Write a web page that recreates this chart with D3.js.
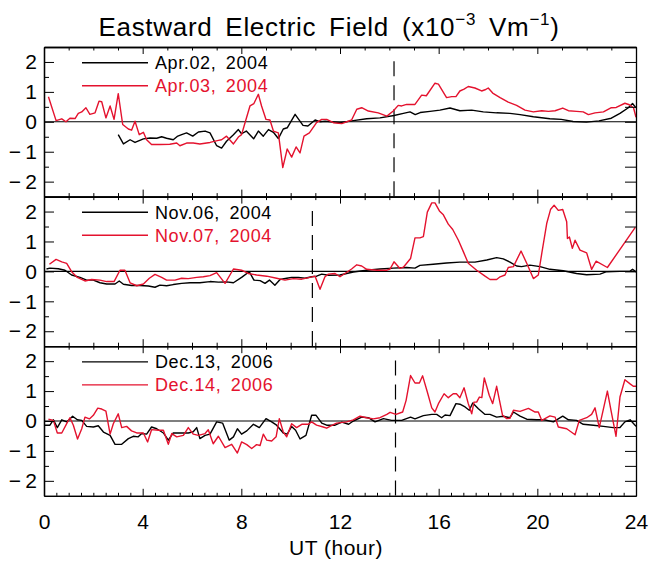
<!DOCTYPE html>
<html>
<head>
<meta charset="utf-8">
<script src="https://cdn.jsdelivr.net/npm/d3@7"></script>
<style>
    body { margin: 0; background: #fff; }
    text { font-family: "Liberation Sans", Arial, sans-serif; }
</style>
</head>
<body>
<div id="chart"></div>
<script>
// hour, value (x10^-3 V/m)
var apr02 = [[3.01,-0.43],[3.22,-0.74],[3.49,-0.6],[3.69,-0.69],[4.03,-0.57],[4.3,-0.54],[4.57,-0.55],[4.77,-0.5],
    [4.97,-0.55],[5.24,-0.6],[5.4,-0.49],[5.58,-0.43],[5.78,-0.37],[6.03,-0.48],[6.26,-0.34],[6.53,-0.31],[6.73,-0.37],
    [7.0,-0.8],[7.2,-0.88],[7.4,-0.65],[7.68,-0.43],[7.88,-0.26],[8.01,-0.4],[8.2,-0.31],[8.5,-0.57],[8.69,-0.31],
    [8.89,-0.48],[9.1,-0.26],[9.3,-0.35],[9.5,-0.56],[9.7,-0.24],[9.86,-0.2],[10.18,0.25],[10.5,-0.12],[10.7,-0.14],
    [10.99,0.06],[11.2,0],[11.4,0.02],[11.6,0],[12.0,-0.03],[12.54,0.04],[13.08,0.1],[13.62,0.13],[14.19,0.21],
    [14.57,0.28],[14.84,0.33],[15.05,0.24],[15.25,0.31],[15.65,0.35],[16.05,0.39],[16.46,0.46],[16.86,0.37],[17.34,0.39],
    [17.81,0.33],[18.35,0.3],[18.89,0.28],[19.3,0.24],[19.84,0.17],[20.51,0.1],[20.97,0.08],[21.45,0.01],[21.99,-0.01],
    [22.5,0.03],[23.0,0.12],[23.35,0.28],[23.69,0.47],[23.86,0.61],[24.0,0.47]];
var apr03 = [[0.18,0.84],[0.49,0.04],[0.72,0.1],[0.89,0],[1.05,0.12],[1.26,0.11],[1.39,0.28],[1.53,0.33],[1.7,0.47],
    [1.86,0.25],[2.07,0.3],[2.23,0.69],[2.34,0.67],[2.51,0.13],[2.68,0.53],[2.84,0.08],[3.01,0.94],[3.19,-0.09],
    [3.42,-0.24],[3.55,-0.28],[3.69,0.02],[3.86,-0.43],[4.03,-0.35],[4.16,-0.6],[4.36,-0.76],[4.7,-0.76],[5.1,-0.75],
    [5.38,-0.71],[5.51,-0.8],[5.78,-0.71],[6.05,-0.71],[6.32,-0.74],[6.73,-0.69],[7.07,-0.62],[7.2,-0.6],[7.4,-0.48],
    [7.68,-0.74],[7.88,-0.51],[8.01,-0.43],[8.15,-0.03],[8.35,0.53],[8.51,0.61],[8.69,0.92],[8.82,0.53],[9.0,0.08],
    [9.16,0.06],[9.3,-0.31],[9.5,-0.37],[9.68,-1.53],[9.86,-0.91],[10.04,-1.18],[10.22,-0.84],[10.38,-1.04],[10.54,-0.48],
    [10.76,-0.37],[11.05,-0.03],[11.26,0.08],[11.46,0.08],[11.73,-0.03],[12.07,-0.06],[12.47,0.06],[12.68,0.42],
    [12.88,0.47],[13.15,0.36],[13.55,0.3],[13.9,0.19],[14.16,0.36],[14.36,0.55],[14.5,0.53],[14.7,0.58],[15.04,0.58],
    [15.31,0.89],[15.5,0.87],[15.85,1.29],[15.99,1.26],[16.32,0.81],[16.53,0.84],[16.7,0.84],[16.86,1.03],[17.03,1.09],
    [17.2,1.18],[17.47,1.13],[17.74,1.03],[17.88,1.07],[18.01,1.13],[18.19,0.96],[18.49,0.81],[18.82,0.66],[19.16,0.55],
    [19.5,0.39],[19.84,0.33],[20.18,0.37],[20.45,0.35],[20.72,0.37],[21.03,0.46],[21.26,0.37],[21.59,0.35],[21.86,0.33],
    [22.07,0.24],[22.34,0.3],[22.68,0.33],[23.0,0.47],[23.2,0.48],[23.55,0.62],[23.73,0.57],[23.9,0.47],[24.0,0.15]];

var nov06 = [[0.1,0.08],[0.24,0.11],[0.58,0.09],[0.85,0.04],[1.12,-0.12],[1.46,-0.2],[1.73,-0.29],[2.0,-0.29],
    [2.27,-0.38],[2.54,-0.42],[2.88,-0.42],[3.05,-0.32],[3.22,-0.43],[3.55,-0.47],[3.89,-0.47],[4.23,-0.49],[4.5,-0.53],
    [4.7,-0.46],[4.97,-0.48],[5.24,-0.44],[5.58,-0.4],[5.92,-0.38],[6.32,-0.38],[6.73,-0.34],[7.07,-0.36],[7.4,-0.35],
    [7.68,-0.38],[8.01,-0.2],[8.32,-0.01],[8.51,-0.29],[8.76,-0.31],[8.96,-0.4],[9.14,-0.29],[9.36,-0.46],[9.57,-0.27],
    [9.84,-0.23],[10.04,-0.2],[10.31,-0.2],[10.58,-0.23],[10.85,-0.18],[11.05,-0.16],[11.26,-0.09],[11.53,-0.13],
    [12.0,-0.12],[12.54,-0.02],[13.08,0.04],[13.62,0.08],[14.16,0.11],[14.7,0.13],[15.04,0.11],[15.24,0.2],[15.78,0.24],
    [16.32,0.28],[16.86,0.31],[17.47,0.31],[17.95,0.38],[18.35,0.46],[18.62,0.42],[18.89,0.31],[19.16,0.18],[19.36,0.16],
    [19.7,0.21],[20.11,0.16],[20.51,0.07],[21.05,0.02],[21.59,-0.07],[22.0,-0.11],[22.54,-0.09],[22.81,-0.01],
    [23.35,0],[23.76,0.01],[23.86,0.07],[24.0,-0.02]];
var nov07 = [[0.22,0.24],[0.49,0.4],[0.72,0.32],[0.92,0.27],[1.12,-0.01],[1.35,-0.2],[1.66,-0.32],[1.93,-0.27],
    [2.27,-0.29],[2.54,-0.34],[2.84,-0.34],[3.08,0.04],[3.28,0.04],[3.49,-0.38],[3.76,-0.48],[4.03,-0.42],[4.27,-0.23],
    [4.5,-0.1],[4.77,-0.2],[4.97,-0.29],[5.31,-0.29],[5.58,-0.23],[5.85,-0.24],[6.19,-0.2],[6.46,-0.18],[6.73,-0.14],
    [7.0,-0.04],[7.34,-0.4],[7.68,0.08],[8.01,0.04],[8.28,-0.07],[8.62,-0.12],[9.03,-0.16],[9.43,-0.23],[9.77,-0.29],
    [10.11,-0.24],[10.45,-0.26],[10.78,-0.2],[10.99,-0.16],[11.19,-0.6],[11.39,-0.18],[11.53,-0.09],[11.8,-0.07],
    [12.0,-0.18],[12.2,-0.07],[12.47,0.08],[12.68,0.22],[12.88,0.18],[13.08,0.07],[13.49,0.04],[13.9,0.04],[14.03,0.08],
    [14.19,0.32],[14.43,0.1],[14.57,0.14],[14.86,0.43],[15.04,1.12],[15.24,1.12],[15.38,1.16],[15.54,1.98],[15.72,2.29],
    [15.85,2.29],[16.03,2.02],[16.19,1.89],[16.39,1.58],[16.57,1.4],[16.8,1.04],[17.0,0.66],[17.2,0.27],[17.54,0.04],
    [17.88,-0.16],[18.08,-0.27],[18.35,-0.27],[18.49,-0.18],[18.69,-0.12],[18.82,0.13],[19.03,0.16],[19.34,0.68],
    [19.57,0.27],[19.84,-0.24],[20.04,-0.12],[20.18,0.6],[20.38,1.6],[20.54,2.08],[20.68,2.21],[20.85,2.04],[21.03,2.07],
    [21.19,1.66],[21.22,1.1],[21.3,1.15],[21.42,0.77],[21.53,1.04],[21.73,0.71],[22.0,0.62],[22.2,0.07],[22.38,0.34],
    [22.84,0.13],[23.97,1.47]];

var dec13 = [[0.04,-0.14],[0.24,-0.14],[0.38,0.04],[0.54,-0.22],[0.72,0.04],[0.92,-0.03],[1.16,0.16],[1.35,0.04],
    [1.53,0.02],[1.73,-0.18],[2.0,-0.2],[2.2,-0.16],[2.41,-0.37],[2.68,-0.48],[2.88,-0.78],[3.15,-0.78],[3.42,-0.59],
    [3.62,-0.51],[3.82,-0.53],[3.96,-0.42],[4.16,-0.44],[4.36,-0.2],[4.57,-0.26],[4.84,-0.4],[5.04,-0.64],[5.24,-0.4],
    [5.58,-0.4],[5.85,-0.4],[6.05,-0.36],[6.19,-0.22],[6.32,-0.59],[6.53,-0.48],[6.73,-0.44],[7.0,-0.03],[7.24,-0.07],
    [7.51,-0.64],[7.68,-0.53],[7.84,-0.26],[8.01,-0.44],[8.22,-0.33],[8.49,-0.11],[8.73,-0.22],[9.0,0.08],[9.23,-0.03],
    [9.43,-0.14],[9.7,-0.4],[9.86,-0.44],[10.04,-0.18],[10.2,-0.31],[10.38,-0.6],[10.62,-0.48],[10.85,0.19],[11.03,0.19],
    [11.26,-0.07],[11.46,-0.14],[11.8,-0.14],[12.07,-0.04],[12.35,-0.11],[12.54,0],[12.88,0.13],[13.15,0.11],
    [13.42,-0.03],[13.76,0.08],[14.09,0.02],[14.5,0.02],[14.86,0.13],[15.04,0.07],[15.38,0.18],[15.72,0.22],[15.92,0.22],
    [16.12,0.11],[16.26,0.2],[16.46,0.18],[16.7,0.58],[16.86,0.56],[17.07,0.47],[17.24,0.36],[17.38,0.6],[17.61,0.41],
    [17.88,0.22],[18.08,0.22],[18.35,0.13],[18.62,0.16],[18.89,0.11],[19.03,0.3],[19.3,0.16],[19.57,0.06],[19.97,0.04],
    [20.27,0.04],[20.65,-0.03],[21.03,0.16],[21.26,0.04],[21.59,0.02],[21.86,-0.11],[22.27,-0.14],[22.68,-0.18],
    [23.08,-0.22],[23.35,-0.22],[23.55,-0.03],[23.76,0.04],[24.0,-0.18]];
var dec14 = [[0.18,0.06],[0.38,0.02],[0.54,-0.4],[0.72,-0.4],[0.92,-0.09],[1.05,0.11],[1.19,-0.14],[1.36,-0.6],
    [1.53,-0.26],[1.66,0.13],[1.84,0.07],[2.0,0.19],[2.18,0.43],[2.34,0.4],[2.51,0.33],[2.68,-0.44],[2.81,-0.09],
    [3.01,0.24],[3.15,-0.22],[3.35,-0.18],[3.55,-0.33],[3.76,-0.4],[4.03,-0.4],[4.2,-0.7],[4.36,-0.29],[4.64,-0.31],
    [4.84,-0.31],[5.04,-0.78],[5.18,-0.42],[5.38,-0.53],[5.65,-0.48],[5.85,-0.22],[6.05,-0.44],[6.26,-0.48],[6.53,-0.42],
    [6.66,-0.29],[6.86,-0.76],[7.07,-0.51],[7.34,-0.89],[7.61,-0.78],[7.84,-1.07],[8.01,-0.7],[8.22,-0.79],[8.42,-0.92],
    [8.62,-0.79],[8.76,-0.82],[8.89,-0.44],[9.03,-0.64],[9.23,-0.67],[9.41,-0.53],[9.54,0.08],[9.7,-0.37],[9.84,-0.53],
    [10.04,-0.09],[10.24,-0.22],[10.45,-0.11],[10.72,-0.11],[10.85,-0.03],[11.05,-0.14],[11.32,-0.2],[11.46,-0.24],
    [11.59,-0.18],[11.86,-0.07],[12.27,-0.03],[12.54,0.04],[12.81,0.16],[13.08,0.11],[13.35,0.07],[13.62,0.11],
    [13.9,0.22],[14.03,0.29],[14.27,0.22],[14.54,0.3],[14.68,0.69],[14.86,1.52],[15.04,1.27],[15.22,1.27],[15.35,1.51],
    [15.54,0.97],[15.72,0.44],[15.85,0.3],[15.99,0.58],[16.22,0.91],[16.39,0.78],[16.59,0.91],[16.72,0.91],[16.86,0.78],
    [17.03,1.11],[17.2,0.58],[17.34,0.24],[17.43,0.63],[17.54,0.63],[17.65,0.8],[17.75,0.78],[17.85,1.44],[18.05,0.86],
    [18.19,0.58],[18.35,1.16],[18.59,0.19],[18.76,0.08],[18.89,0.09],[19.03,0.36],[19.3,0.32],[19.64,0.42],[19.91,0.3],
    [20.04,0.3],[20.18,0.02],[20.51,0.17],[20.72,0.13],[20.85,-0.2],[21.19,-0.26],[21.53,-0.46],[21.7,0.02],[22.0,0.11],
    [22.2,0.22],[22.34,0.44],[22.51,-0.22],[22.84,1.0],[23.0,0.3],[23.19,-0.51],[23.35,0.8],[23.55,1.38],[23.76,1.24],
    [23.89,1.16],[24.0,1.16]];

var panelLabels = [["Apr.02, 2004", "Apr.03, 2004"], ["Nov.06, 2004", "Nov.07, 2004"], ["Dec.13, 2006", "Dec.14, 2006"]];
var panelSeries = [[apr02, apr03], [nov06, nov07], [dec13, dec14]];
var dashedAt = [14.19, 10.88, 14.25];   // dashed marker, hour
var yMajor = [-2, -1, 0, 1, 2];
var yMinor = [-1.5, -0.5, 0.5, 1.5];
var xLabels = [0, 4, 8, 12, 16, 20, 24];

var width = 650, height = 561;
var red = "#e4122e";
var seriesColor = ["#000", red];

var svg = d3.select("#chart").append("svg")
    .attr("width", width)
    .attr("height", height);

var x = d3.scaleLinear().domain([0, 24]).range([44, 636]);
var top0 = 47, ph = 149.6;

var hourTicks = d3.range(0, 25, 1);
var halfTicks = d3.range(0, 24.01, 0.5);

function tidy(g) {
    g.selectAll("path.domain").attr("stroke", "#000").attr("stroke-width", 1.3);
    g.selectAll(".tick line").attr("stroke", "#000").attr("stroke-width", 1);
}

var line = d3.line();

panelSeries.forEach(function (series, i) {
    var top = top0 + i * ph;
    var y = d3.scaleLinear().domain([-2.5, 2.5]).range([top + ph, top]);
    var g = svg.append("g");

    svg.append("clipPath").attr("id", "clip" + i)
        .append("rect")
        .attr("x", x(0)).attr("y", top)
        .attr("width", x(24) - x(0)).attr("height", ph);

    // zero line
    g.append("line")
        .attr("x1", x(0)).attr("x2", x(24))
        .attr("y1", y(0)).attr("y2", y(0))
        .attr("stroke", "#000").attr("stroke-width", 1.1);

    // dashed marker
    g.append("line")
        .attr("x1", x(dashedAt[i])).attr("x2", x(dashedAt[i]))
        .attr("y1", y(2.02)).attr("y2", y(-2.5))
        .attr("stroke", "#000").attr("stroke-width", 1.2)
        .attr("stroke-dasharray", "15,9");

    // series
    series.forEach(function (s, k) {
        g.append("path")
            .datum(s)
            .attr("clip-path", "url(#clip" + i + ")")
            .attr("fill", "none")
            .attr("stroke", seriesColor[k])
            .attr("stroke-width", 1.4)
            .attr("stroke-linejoin", "round")
            .attr("d", line.x(d => x(d[0])).y(d => y(d[1])));
    });

    // legend
    panelLabels[i].forEach(function (lab, k) {
        var ly = top + 15.7 + k * 23;
        g.append("line")
            .attr("x1", 82).attr("x2", 148)
            .attr("y1", ly).attr("y2", ly)
            .attr("stroke", seriesColor[k]).attr("stroke-width", 1.4);
        g.append("text")
            .attr("x", 155).attr("y", ly + 6.5)
            .attr("font-size", 18)
            .attr("letter-spacing", 0.6)
            .attr("word-spacing", 4)
            .attr("fill", seriesColor[k])
            .text(lab);
    });

    // left axis: ticks point inward
    g.append("g").attr("transform", `translate(${x(0)},0)`)
        .call(d3.axisRight(y).tickValues(yMajor).tickSize(10).tickSizeOuter(0).tickFormat(""))
        .call(tidy);
    g.append("g").attr("transform", `translate(${x(0)},0)`)
        .call(d3.axisRight(y).tickValues(yMinor).tickSize(5).tickSizeOuter(0).tickFormat(""))
        .call(tidy);
    // labels
    g.append("g").attr("transform", `translate(${x(0)},0)`)
        .call(d3.axisLeft(y).tickValues(yMajor).tickSize(0).tickPadding(7)
            .tickFormat(d => d < 0 ? "\u2212\u2009" + (-d) : String(d)))
        .call(function (a) {
            a.select("path.domain").remove();
            a.selectAll("text").attr("font-size", 21)
                .attr("font-family", "'Liberation Sans', Arial, sans-serif");
        });

    // right axis
    g.append("g").attr("transform", `translate(${x(24)},0)`)
        .call(d3.axisLeft(y).tickValues(yMajor.concat(yMinor)).tickSize(11).tickSizeOuter(0).tickFormat(""))
        .call(tidy);

    // top edge, ticks downward
    g.append("g").attr("transform", `translate(0,${top})`)
        .call(d3.axisBottom(x).tickValues(hourTicks.filter(h => h % 4)).tickSize(3.5).tickSizeOuter(0).tickFormat(""))
        .call(tidy);
    g.append("g").attr("transform", `translate(0,${top})`)
        .call(d3.axisBottom(x).tickValues(xLabels).tickSize(7).tickSizeOuter(0).tickFormat(""))
        .call(tidy);

    // bottom edge, ticks upward
    var bt = i < 2 ? hourTicks : halfTicks;
    g.append("g").attr("transform", `translate(0,${top + ph})`)
        .call(d3.axisTop(x).tickValues(bt.filter(h => h % 4)).tickSize(i < 2 ? 3.5 : 3).tickSizeOuter(0).tickFormat(""))
        .call(tidy);
    g.append("g").attr("transform", `translate(0,${top + ph})`)
        .call(d3.axisTop(x).tickValues(xLabels).tickSize(7).tickSizeOuter(0).tickFormat(""))
        .call(tidy);
});

// bottom hour labels
var bottom = top0 + 3 * ph;
svg.append("g").attr("transform", `translate(0,${bottom})`)
    .call(d3.axisBottom(x).tickValues(xLabels).tickSize(0).tickPadding(18).tickFormat(d3.format("d")))
    .call(function (a) {
        a.select("path.domain").remove();
        a.selectAll("text").attr("font-size", 21)
            .attr("font-family", "'Liberation Sans', Arial, sans-serif");
    });

svg.append("text")
    .attr("x", 336).attr("y", 555)
    .attr("text-anchor", "middle")
    .attr("font-size", 21)
    .attr("letter-spacing", 0.5)
    .text("UT (hour)");

// title
var title = svg.append("text")
    .attr("x", 329).attr("y", 36)
    .attr("text-anchor", "middle")
    .attr("font-size", 26)
    .attr("letter-spacing", 0.7)
    .attr("word-spacing", 5);
title.append("tspan").text("Eastward Electric Field (x10");
title.append("tspan").attr("dy", -11).attr("font-size", 17).text("\u2212" + "3");
title.append("tspan").attr("dy", 11).text(" Vm");
title.append("tspan").attr("dy", -11).attr("font-size", 17).text("\u2212" + "1");
title.append("tspan").attr("dy", 11).text(")");
</script>
</body>
</html>
